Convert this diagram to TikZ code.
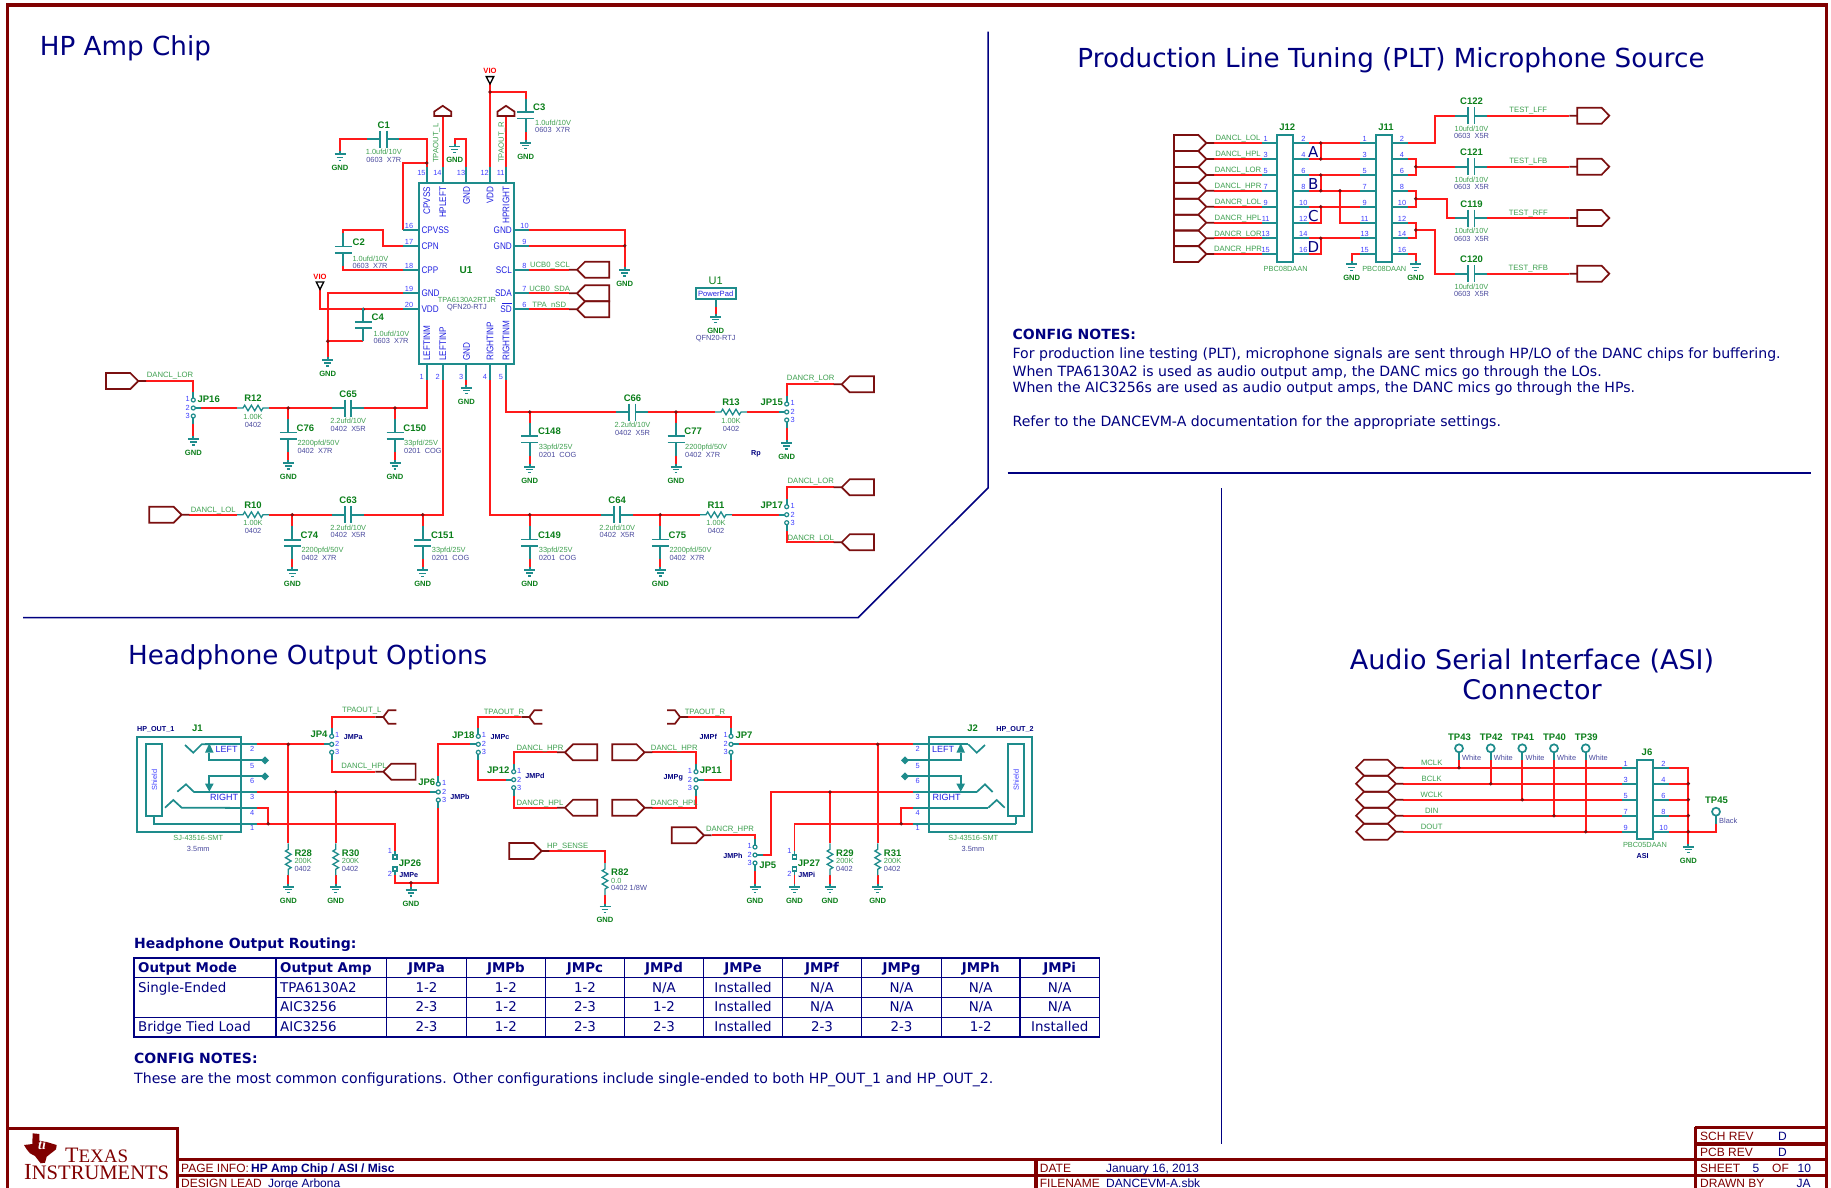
\documentclass[tikz,border=0pt]{standalone}
\usepackage{fontspec}
\setmainfont{Liberation Sans}
\newfontfamily\condf[FakeStretch=0.85]{Liberation Sans}
\newfontfamily\vrd{DejaVu Sans}
\newfontfamily\serf{Liberation Serif}
\definecolor{wirec}{HTML}{FF1A1A}
\definecolor{tealc}{HTML}{1E8C8C}
\definecolor{refg}{HTML}{0B7F1A}
\definecolor{valg}{HTML}{3FA050}
\definecolor{fpb}{HTML}{4A4A9E}
\definecolor{pinb}{HTML}{4040FF}
\definecolor{chipb}{HTML}{2020E0}
\definecolor{portc}{HTML}{7B1010}
\definecolor{navyc}{HTML}{000080}
\definecolor{borderc}{HTML}{800000}
\pgfdeclarelayer{fg}\pgfsetlayers{main,fg}
\makeatletter
\newenvironment{fgl}{\begingroup\global\setbox\pgf@layerbox@fg=\hbox to 0pt\bgroup\unhbox\pgf@layerbox@fg\begingroup\pgfsetcolor{.}}{\endgroup\hss\egroup\endgroup}
\makeatother
\tikzset{
  lbl/.style={inner sep=0pt,text height=5.5pt,text depth=0pt},
  refd/.style={lbl,text height=6.9pt,text=refg,font=\fontsize{9.5}{10}\selectfont\bfseries},
  val/.style={lbl,text=valg,font=\fontsize{7.4}{8}\selectfont},
  fpt/.style={lbl,text=fpb,font=\fontsize{7.4}{8}\selectfont},
  sig/.style={lbl,text=valg,font=\fontsize{7.7}{8}\selectfont},
  pnum/.style={lbl,text height=5.2pt,text=pinb,font=\fontsize{7.4}{8}\selectfont},
  chiptxt/.style={lbl,text height=6.9pt,text=chipb,font=\fontsize{9.6}{10}\condf},
  chiprot/.style={chiptxt,rotate=90},
  jname/.style={lbl,text=navyc,font=\fontsize{7.2}{8}\selectfont\bfseries},
  gndt/.style={lbl,text=refg,font=\fontsize{7.6}{8}\selectfont\bfseries},
  ttl/.style={lbl,text height=19pt,text=navyc,font=\fontsize{26.2}{28}\vrd},
  ttlb/.style={lbl,text height=19pt,text=navyc,font=\fontsize{27}{28}\vrd},
  notes/.style={lbl,text height=10pt,text=navyc,font=\fontsize{14.1}{15}\vrd},
  notesb/.style={lbl,text height=10pt,text=navyc,font=\fontsize{14}{15}\vrd\bfseries},
  tb/.style={lbl,text height=9.7pt,text=navyc,font=\fontsize{13.4}{15}\vrd},
  tbh/.style={lbl,text height=9.7pt,text=navyc,font=\fontsize{13.4}{15}\vrd\bfseries},
  tbk/.style={lbl,text height=8.6pt,text=borderc,font=\fontsize{12}{14}\selectfont},
  tbv/.style={lbl,text height=8.6pt,text=navyc,font=\fontsize{12}{14}\selectfont},
  wire/.style={draw=wirec,line width=1.8pt},
  part/.style={draw=tealc,line width=1.7pt},
  portl/.style={draw=portc,line width=1.7pt,line join=miter},
  tline/.style={draw=navyc,line width=1.5pt},
  frame/.style={draw=borderc,line width=3.2pt},
}
\newcount\labn
\newcommand\T[5]{\global\advance\labn by 1\relax
  \begin{fgl}\node[#1,anchor=#4] (t\the\labn) at (#2,#3) {#5};\end{fgl}}
\newcommand\RD[4][center]{\T{refd}{#2}{#3}{#1}{#4}}
\newcommand\VA[4][center]{\T{val}{#2}{#3}{#1}{#4}}
\newcommand\FP[4][center]{\T{fpt}{#2}{#3}{#1}{#4}}
\newcommand\SG[3]{\T{sig}{#1}{#2}{center}{#3}}
\newcommand\PN[3]{\T{pnum}{#1}{#2}{center}{#3}}
\newcommand\CW[3]{\T{chiptxt}{#1}{#2}{west}{#3}}
\newcommand\CE[3]{\T{chiptxt}{#1}{#2}{east}{#3}}
\newcommand\RT[3]{\T{chiprot}{#1}{#2}{east}{#3}}
\newcommand\RB[3]{\T{chiprot}{#1}{#2}{west}{#3}}
% pin stub
\newcommand\pin[5]{\begin{fgl}\coordinate (#1) at (#4,#5);
  \draw[part] (#2,#3) -- (#1);\end{fgl}}
\newcommand\jct[3]{\begin{fgl}\coordinate (#1) at (#2,#3);
  \fill[portc] (#1) circle (1.9pt);\end{fgl}}
\newcommand\gnd[3]{\begin{fgl}\coordinate (#1) at (#2,#3);
  \draw[part] (#2,#3-3) -- (#1) (#2-5.5,#3) -- (#2+5.5,#3);
  \draw[draw=tealc,line width=1.2pt] (#2-3.3,#3+3) -- (#2+3.3,#3+3) (#2-1.3,#3+6) -- (#2+1.3,#3+6);
  \end{fgl}\T{gndt}{#2}{#3+13.6}{center}{GND}}
\newcommand\capH[3]{\begin{fgl}\coordinate (#1-l) at (#2,#3);\coordinate (#1-r) at (#2+32,#3);
  \draw[part] (#1-l) -- (#2+13,#3) (#2+13,#3-8.5) -- (#2+13,#3+8.5)
     (#2+19.5,#3-8.5) -- (#2+19.5,#3+8.5) (#2+19.5,#3) -- (#1-r);\end{fgl}}
\newcommand\capV[3]{\begin{fgl}\coordinate (#1-t) at (#2,#3);\coordinate (#1-b) at (#2,#3+33);
  \draw[part] (#1-t) -- (#2,#3+13.5) (#2-8.5,#3+13.5) -- (#2+8.5,#3+13.5)
     (#2-8.5,#3+19.7) -- (#2+8.5,#3+19.7) (#2,#3+19.7) -- (#1-b);\end{fgl}}
\newcommand\resH[3]{\begin{fgl}\coordinate (#1-l) at (#2,#3);\coordinate (#1-r) at (#2+32,#3);
  \draw[part,line width=1.3pt] (#1-l) -- (#2+6,#3) -- (#2+7.7,#3-2.8) -- (#2+11,#3+2.8) -- (#2+14.4,#3-2.8) -- (#2+17.7,#3+2.8) -- (#2+21,#3-2.8) -- (#2+24.3,#3+2.8) -- (#2+26,#3) -- (#1-r);\end{fgl}}
\newcommand\resV[3]{\begin{fgl}\coordinate (#1-t) at (#2,#3);\coordinate (#1-b) at (#2,#3+32);
  \draw[part,line width=1.3pt] (#1-t) -- (#2,#3+6) -- (#2-2.8,#3+7.7) -- (#2+2.8,#3+11) -- (#2-2.8,#3+14.4) -- (#2+2.8,#3+17.7) -- (#2-2.8,#3+21) -- (#2+2.8,#3+24.3) -- (#2,#3+26) -- (#1-b);\end{fgl}}
% capacitor with labels and ground
\newcommand\CVL[5]{\capV{#1}{#2}{#3}\RD[west]{#2+8.2}{#3+8.6}{#1}\VA[west]{#2+9}{#3+24}{#4}\FP[west]{#2+9}{#3+31.5}{#5}
  \gnd{#1-g}{#2}{#3+44}\draw[wire] (#1-b) -- (#1-g);}
\newcommand\CHL[5]{\capH{#1}{#2}{#3}\RD{#2+16.5}{#3-14.3}{#1}\VA{#2+16.5}{#3+13}{#4}\FP{#2+16.5}{#3+20.3}{#5}}
\newcommand\RHL[5]{\resH{#1}{#2}{#3}\RD{#2+16}{#3-10}{#1}\VA{#2+16}{#3+8.3}{#4}\FP{#2+16}{#3+16.3}{#5}}
\newcommand\RVL[5]{\resV{#1}{#2}{#3}\RD[west]{#2+6}{#3+9.4}{#1}\VA[west]{#2+6}{#3+17.6}{#4}\FP[west]{#2+6}{#3+25}{#5}
  \gnd{#1-g}{#2}{#3+43.5}\draw[wire] (#1-b) -- (#1-g);}
% three-pin jumper: name, x, y of pin 1, side of pin 2 (+1/-1), x of pin numbers
\newcommand\JP[5]{\begin{fgl}\coordinate (#1-1) at (#2,#3-8);\coordinate (#1-3) at (#2,#3+24);\coordinate (#1-2) at (#2+8*#4,#3+8);
  \draw[part] (#1-1) -- (#2,#3) (#1-3) -- (#2,#3+16) (#1-2) -- (#2,#3+8);
  \draw[part,line width=1.2pt,fill=white] (#2,#3) circle (2pt) (#2,#3+8) circle (2pt) (#2,#3+16) circle (2pt);\end{fgl}
  \PN{#5}{#3-1}{1}\PN{#5}{#3+8}{2}\PN{#5}{#3+16}{3}}
% two-pin jumper
\newcommand\JS[3]{\begin{fgl}\coordinate (#1-1) at (#2,#3-6);\coordinate (#1-2) at (#2,#3+18);
  \draw[part] (#1-1) -- (#2,#3-2) (#1-2) -- (#2,#3+14);
  \draw[part,line width=1.2pt,fill=white] (#2-2,#3-2) rectangle (#2+2,#3+2) (#2-2,#3+10) rectangle (#2+2,#3+14);\end{fgl}
  \PN{#2-5}{#3-6}{1}\PN{#2-5}{#3+17}{2}}
% ports
\newcommand\portOut[3]{\begin{fgl}\coordinate (#1) at (#2+40,#3);
  \draw[portl] (#2,#3-8) -- (#2+24.3,#3-8) -- (#2+32.3,#3) -- (#2+24.3,#3+8) -- (#2,#3+8) -- cycle (#2+32.3,#3) -- (#1);\end{fgl}}
\newcommand\portIn[3]{\begin{fgl}\coordinate (#1) at (#2-8,#3);
  \draw[portl] (#2+32.3,#3-8) -- (#2+8,#3-8) -- (#2,#3) -- (#2+8,#3+8) -- (#2+32.3,#3+8) -- cycle (#2,#3) -- (#1);\end{fgl}}
\newcommand\portFlat[3]{\begin{fgl}\coordinate (#1) at (#2-8,#3);
  \draw[portl] (#2,#3-8) -- (#2+24.3,#3-8) -- (#2+32,#3) -- (#2+24.3,#3+8) -- (#2,#3+8) -- cycle (#2,#3) -- (#1);\end{fgl}}
\newcommand\portUp[3]{\begin{fgl}\coordinate (#1) at (#2,#3);
  \draw[portl] (#2-8.5,#3) -- (#2-8.5,#3-4.4) -- (#2,#3-10.2) -- (#2+8.5,#3-4.4) -- (#2+8.5,#3) -- cycle;\end{fgl}}
\newcommand\forkR[3]{\begin{fgl}\coordinate (#1) at (#2-8,#3);
  \draw[portl] (#2+13,#3-6.7) -- (#2+5,#3-6.7) -- (#2,#3) -- (#2+5,#3+6.7) -- (#2+13,#3+6.7) (#2,#3) -- (#1);\end{fgl}}
\newcommand\forkL[3]{\begin{fgl}\coordinate (#1) at (#2+8,#3);
  \draw[portl] (#2-13,#3-6.7) -- (#2-5,#3-6.7) -- (#2,#3) -- (#2-5,#3+6.7) -- (#2-13,#3+6.7) (#2,#3) -- (#1);\end{fgl}}
\newcommand\portH[3]{\begin{fgl}\coordinate (#1) at (#2+47.3,#3);
  \draw[portl] (#2,#3) -- (#2+8,#3-8) -- (#2+31.7,#3-8) -- (#2+40,#3) -- (#2+31.7,#3+8) -- (#2+8,#3+8) -- cycle (#2+40,#3) -- (#1);\end{fgl}}
\newcommand\vio[3]{\begin{fgl}\coordinate (#1) at (#2,#3);
  \draw[black,line width=1.3pt] (#2-3.8,#3-7.4) -- (#2+3.8,#3-7.4) -- (#2,#3) -- cycle;\end{fgl}
  \T{lbl,text=red,font=\fontsize{7.6}{8}\selectfont\bfseries}{#2}{#3-13}{center}{VIO}}
\newcommand\TPT[5]{\begin{fgl}\coordinate (#1) at (#2,#3+12);
  \draw[part] (#2,#3) circle (4pt);\draw[part] (#2,#3+4) -- (#1);\end{fgl}
  \T{refd}{#2+.5}{#3-11.5}{center}{#1}\T{fpt}{#2+3}{#3+9}{west}{#4}}
\begin{document}
\begin{tikzpicture}[x=1pt,y=-1pt,line cap=butt,line join=miter]
\useasboundingbox (0,0) rectangle (1831,1187);
\fill[white] (0,0) rectangle (1831,1187);
%% frame and title block
\draw[frame] (7.3,1190) -- (7.3,5) -- (1826.7,5) -- (1826.7,1190);
\draw[frame] (7.3,1128.3) -- (177.3,1128.3) -- (177.3,1190);
\draw[frame] (177.3,1159.3) -- (1826.7,1159.3) (177.3,1175.7) -- (1826.7,1175.7);
\draw[frame] (1036,1159.3) -- (1036,1190);
\draw[frame] (1695.3,1127.3) -- (1826.7,1127.3) (1695.3,1144) -- (1826.7,1144) (1695.3,1127.3) -- (1695.3,1190);
\T{tbk}{181}{1168.3}{west}{PAGE INFO:}
\T{tbv,font=\fontsize{12}{14}\selectfont\bfseries}{251}{1168.3}{west}{HP Amp Chip / ASI / Misc}
\T{tbk}{181}{1182.7}{west}{DESIGN LEAD}
\T{tbv}{268}{1182.7}{west}{Jorge Arbona}
\T{tbk}{1039.7}{1168.3}{west}{DATE}
\T{tbv}{1106}{1168.3}{west}{January 16, 2013}
\T{tbk}{1039.7}{1182.7}{west}{FILENAME}
\T{tbv}{1106}{1182.7}{west}{DANCEVM-A.sbk}
\T{tbk}{1700}{1135.7}{west}{SCH REV}\T{tbv}{1778}{1135.7}{west}{D}
\T{tbk}{1700}{1151.7}{west}{PCB REV}\T{tbv}{1778}{1151.7}{west}{D}
\T{tbk}{1700}{1168.3}{west}{SHEET}\T{tbv}{1752.5}{1168.3}{west}{5}\T{tbk}{1772}{1168.3}{west}{OF}\T{tbv}{1797.5}{1168.3}{west}{10}
\T{tbk}{1700}{1182.7}{west}{DRAWN BY}\T{tbv}{1796.5}{1182.7}{west}{JA}
%% logo
\fill[borderc] (32.7,1133.3) -- (39.3,1134) -- (39.3,1140.7) -- (46.7,1142) -- (56.7,1145) -- (56,1149.3) -- (46.7,1156.7) -- (45,1162.7) -- (40.7,1163.3) -- (35,1156) -- (30,1153.3) -- (26.7,1149.3) -- (24,1145) -- (32.3,1144) -- cycle;
\T{lbl,text=white,font=\fontsize{14}{14}\serf\bfseries\itshape}{42}{1147}{center}{ti}
\T{lbl,text=borderc,font=\serf}{65}{1162.7}{base west}{\fontsize{22}{22}\selectfont T\fontsize{19}{19}\selectfont EXAS}
\T{lbl,text=borderc,font=\serf}{24}{1179.7}{base west}{\fontsize{23}{23}\selectfont I\fontsize{20.6}{20.6}\selectfont NSTRUMENTS}
%% section dividers
\draw[tline] (988,31.5) -- (988,488) -- (858,617.7) -- (23,617.7);
\draw[tline] (1007.7,472.9) -- (1811,472.9);
\draw[tline] (1221.5,488) -- (1221.5,1144);
%% titles and notes
\T{ttl}{39.7}{45.5}{west}{HP Amp Chip}
\T{ttl}{1391}{58}{center}{Production Line Tuning (PLT) Microphone Source}
\T{ttl}{307.7}{655}{center}{Headphone Output Options}
\T{ttlb}{1532}{659.7}{center}{Audio Serial Interface (ASI)}
\T{ttlb}{1532}{690}{center}{Connector}
\T{notesb}{1012.4}{334}{west}{CONFIG NOTES:}
\T{notes}{1012.4}{353.8}{west}{For production line testing (PLT), microphone signals are sent through HP/LO of the DANC chips for buffering.}
\T{notes}{1012.4}{371.3}{west}{When TPA6130A2 is used as audio output amp, the DANC mics go through the LOs.}
\T{notes}{1012.4}{387.7}{west}{When the AIC3256s are used as audio output amps, the DANC mics go through the HPs.}
\T{notes}{1012.4}{421.5}{west}{Refer to the DANCEVM-A documentation for the appropriate settings.}
\T{notesb}{134}{943.7}{west}{Headphone Output Routing:}
\T{notesb}{134}{1058.3}{west}{CONFIG NOTES:}
\T{notes}{134}{1078.3}{west}{These are the most common configurations. Other configurations include single-ended to both HP\_OUT\_1 and HP\_OUT\_2.}
%% routing table
\draw[tline] (134,958) rectangle (1099.6,1037);
\draw[tline] (134,977.7) -- (1099.6,977.7) (276.2,997.7) -- (1099.6,997.7) (134,1017.3) -- (1099.6,1017.3);
\foreach \cx in {276.2,386.6,466.3,545.4,624.5,703.5,782.6,861.7,941.4,1019.9} \draw[tline] (\cx,958) -- (\cx,1037);
\T{tbh}{138}{968}{west}{Output Mode}\T{tbh}{280}{968}{west}{Output Amp}
\foreach \cx/\tx in {426.5/JMPa,505.9/JMPb,585/JMPc,664/JMPd,743/JMPe,822/JMPf,901.5/JMPg,980.7/JMPh,1059.7/JMPi} {\T{tbh}{\cx}{968}{center}{\tx}}
\T{tb}{138}{987.5}{west}{Single-Ended}\T{tb}{280}{987.5}{west}{TPA6130A2}
\foreach \cx/\tx in {426.5/1-2,505.9/1-2,585/1-2,664/N\slash A,743/Installed,822/N\slash A,901.5/N\slash A,980.7/N\slash A,1059.7/N\slash A} {\T{tb}{\cx}{987.5}{center}{\tx}}
\T{tb}{280}{1007}{west}{AIC3256}
\foreach \cx/\tx in {426.5/2-3,505.9/1-2,585/2-3,664/1-2,743/Installed,822/N\slash A,901.5/N\slash A,980.7/N\slash A,1059.7/N\slash A} {\T{tb}{\cx}{1007}{center}{\tx}}
\T{tb}{138}{1026.7}{west}{Bridge Tied Load}\T{tb}{280}{1026.7}{west}{AIC3256}
\foreach \cx/\tx in {426.5/2-3,505.9/1-2,585/2-3,664/2-3,743/Installed,822/2-3,901.5/2-3,980.7/1-2,1059.7/Installed} {\T{tb}{\cx}{1026.7}{center}{\tx}}
%% ===== U1 =====
\begin{fgl}\draw[part] (419,183) rectangle (514,364);\end{fgl}
\T{refd,font=\fontsize{10}{10}\selectfont\bfseries}{466}{269.7}{center}{U1}
\VA{467}{299.3}{TPA6130A2RTJR}\FP{467}{307}{QFN20-RTJ}
\foreach \n/\cx in {15/426.7,14/442.7,13/466.3,12/490,11/506} {\pin{U1-\n}{\cx}{183}{\cx}{167}\PN{\cx-5.3}{172.5}{\n}}
\foreach \n/\cy in {16/230,17/245.7,18/269.7,19/293.3,20/309.3} {\pin{U1-\n}{419}{\cy}{402.7}{\cy}\PN{409}{\cy-4}{\n}}
\foreach \n/\cy in {10/230,9/245.7,8/269.7,7/293.3,6/309.3} {\pin{U1-\n}{514}{\cy}{529.3}{\cy}\PN{524.5}{\cy-4}{\n}}
\foreach \n/\cx in {1/426.7,2/442.7,3/466.3,4/490,5/506} {\pin{U1-\n}{\cx}{364}{\cx}{380}\PN{\cx-5}{377}{\n}}
\RT{426.7}{186.5}{CPVSS}\RT{442.7}{186.5}{HPLEFT}\RT{466.3}{186.5}{GND}\RT{490}{186.5}{VDD}\RT{506}{186.5}{HPRIGHT}
\RB{426.7}{361}{LEFTINM}\RB{442.7}{361}{LEFTINP}\RB{466.3}{361}{GND}\RB{490}{361}{RIGHTINP}\RB{506}{361}{RIGHTINM}
\CW{421.3}{230}{CPVSS}\CW{421.3}{245.7}{CPN}\CW{421.3}{269.7}{CPP}\CW{421.3}{293.3}{GND}\CW{421.3}{309.3}{VDD}
\CE{512}{230}{GND}\CE{512}{245.7}{GND}\CE{512}{269.7}{SCL}\CE{512}{293.3}{SDA}\CE{512}{309.3}{SD}
\begin{fgl}\draw[chipb,line width=.7pt] (502,303.6) -- (511.5,303.6);\end{fgl}
% top
\CHL{C1}{367.3}{139}{1.0ufd/10V}{0603\ \ X7R}
\gnd{GC1}{340}{154.3}
\draw[wire] (GC1) |- (C1-l);
\jct{j15}{426.7}{163}
\draw[wire] (C1-r) -| (U1-15);
\draw[wire] (j15) -| (U1-16);
\portUp{PTL}{442.7}{116}\portUp{PTR}{506}{116}
\draw[wire] (U1-14) -- (PTL);\draw[wire] (U1-11) -- (PTR);
\T{sig,rotate=90}{435.7}{163}{west}{TPAOUT\_L}
\T{sig,rotate=90}{501}{163}{west}{TPAOUT\_R}
\gnd{G13}{454.7}{146.5}
\coordinate (b13) at (466.3,139);
\draw[wire] (U1-13) -- (b13) -| (G13);
\vio{V1}{490}{84}
\jct{j12}{490}{92}
\draw[wire] (U1-12) -- (V1);
\capV{C3}{525.7}{98.8}\RD[west]{533}{106.7}{C3}\VA[west]{535}{123}{1.0ufd/10V}\FP[west]{535}{130}{0603\ \ X7R}
\gnd{GC3}{525.7}{142.7}
\draw[wire] (j12) -| (C3-t);\draw[wire] (C3-b) -- (GC3);
% left
\capV{C2}{343.3}{233}\RD[west]{352.5}{241.7}{C2}\VA[west]{352.3}{258.3}{1.0ufd/10V}\FP[west]{352.3}{265.3}{0603\ \ X7R}
\coordinate (b17) at (383.3,230);
\draw[wire] (U1-17) -| (b17) -| (C2-t);
\draw[wire] (C2-b) |- (U1-18);
\vio{V2}{320}{289.3}
\draw[wire] (V2) |- (U1-20);
\jct{j20}{363.3}{309.3}
\capV{C4}{363.3}{308.2}\RD[west]{371.5}{316.7}{C4}\VA[west]{373.3}{333.3}{1.0ufd/10V}\FP[west]{373.3}{340.3}{0603\ \ X7R}
\gnd{GC4}{327.7}{360}
\draw[wire] (U1-19) -| (GC4);
\draw[wire] (C4-b) -| (GC4);
\jct{j19}{327.7}{341.2}
% LEFTINM branch
\portOut{PLOR}{106}{381}\SG{170}{375}{DANCL\_LOR}
\JP{JP16}{193.3}{400}{1}{187.7}
\RD{208.7}{398.7}{JP16}
\gnd{GJ16}{193.3}{439}
\draw[wire] (PLOR) -| (JP16-1);
\draw[wire] (JP16-3) -- (GJ16);
\RHL{R12}{237}{408}{1.00K}{0402}
\CHL{C65}{331.7}{408}{2.2ufd/10V}{0402\ \ X5R}
\draw[wire] (JP16-2) -- (R12-l);
\draw[wire] (R12-r) -- (C65-l);
\draw[wire] (U1-1) |- (C65-r);
\jct{j76}{288.3}{408}\jct{j150}{395}{408}
\CVL{C76}{288.3}{419}{2200pfd/50V}{0402\ \ X7R}\draw[wire] (j76) -- (C76-t);
\CVL{C150}{395}{419}{33pfd/25V}{0201\ \ COG}\draw[wire] (j150) -- (C150-t);
% LEFTINP branch
\portOut{PLOL}{149.3}{514.7}\SG{213.3}{509.3}{DANCL\_LOL}
\RHL{R10}{237}{514.7}{1.00K}{0402}
\CHL{C63}{331.7}{514.7}{2.2ufd/10V}{0402\ \ X5R}
\draw[wire] (PLOL) -- (R10-l);
\draw[wire] (R10-r) -- (C63-l);
\draw[wire] (U1-2) |- (C63-r);
\jct{j74}{292.3}{514.7}\jct{j151}{422.7}{514.7}
\CVL{C74}{292.3}{526.2}{2200pfd/50V}{0402\ \ X7R}\draw[wire] (j74) -- (C74-t);
\CVL{C151}{422.7}{526.2}{33pfd/25V}{0201\ \ COG}\draw[wire] (j151) -- (C151-t);
% pin 3
\gnd{G3}{466.3}{387.7}\draw[wire] (U1-3) -- (G3);
% RIGHTINP branch
\CHL{C64}{600.7}{514.7}{2.2ufd/10V}{0402\ \ X5R}
\draw[wire] (U1-4) |- (C64-l);
\RHL{R11}{700}{514.7}{1.00K}{0402}
\draw[wire] (C64-r) -- (R11-l);
\JP{JP17}{786.7}{506.7}{-1}{792.7}
\RD{771.7}{505}{JP17}
\draw[wire] (R11-r) -- (JP17-2);
\portIn{P17a}{841.7}{487.3}\SG{810.7}{480.3}{DANCL\_LOR}
\portIn{P17b}{841.7}{542.3}\SG{810.7}{537.3}{DANCR\_LOL}
\draw[wire] (JP17-1) |- (P17a);\draw[wire] (JP17-3) |- (P17b);
\jct{j149}{529.7}{514.7}\jct{j75}{660.3}{514.7}
\CVL{C149}{529.7}{526}{33pfd/25V}{0201\ \ COG}\draw[wire] (j149) -- (C149-t);
\CVL{C75}{660.3}{526}{2200pfd/50V}{0402\ \ X7R}\draw[wire] (j75) -- (C75-t);
% RIGHTINM branch
\CHL{C66}{616}{412}{2.2ufd/10V}{0402\ \ X5R}
\draw[wire] (U1-5) |- (C66-l);
\RHL{R13}{715}{412}{1.00K}{0402}
\draw[wire] (C66-r) -- (R13-l);
\JP{JP15}{786.7}{404}{-1}{792.7}
\RD{771.7}{401.7}{JP15}
\draw[wire] (R13-r) -- (JP15-2);
\portIn{P15}{841.7}{384.3}\SG{810.7}{377.3}{DANCR\_LOR}
\draw[wire] (JP15-1) |- (P15);
\gnd{GJ15}{786.7}{443}\draw[wire] (JP15-3) -- (GJ15);
\T{jname}{756}{452.7}{center}{Rp}
\jct{j148}{529.7}{412}\jct{j77}{676}{412}
\CVL{C148}{529.7}{422.8}{33pfd/25V}{0201\ \ COG}\draw[wire] (j148) -- (C148-t);
\CVL{C77}{676}{422.8}{2200pfd/50V}{0402\ \ X7R}\draw[wire] (j77) -- (C77-t);
% right pins
\gnd{G9}{624.7}{270}\jct{j9}{624.7}{245.7}
\draw[wire] (U1-10) -| (G9);\draw[wire] (U1-9) -- (j9);
\portIn{P8}{577}{269.7}\portIn{P7}{577}{293.3}\portIn{P6}{577}{309.3}
\draw[wire] (U1-8) -- (P8);\draw[wire] (U1-7) -- (P7);\draw[wire] (U1-6) -- (P6);
\SG{550}{264.3}{UCB0\_SCL}\SG{549.7}{288.3}{UCB0\_SDA}\SG{549.3}{304.3}{TPA\_nSD}
% PowerPad
\begin{fgl}\draw[part] (695.7,288.3) rectangle (735.7,298.7);\end{fgl}
\T{lbl,text=chipb,font=\fontsize{7.6}{8}\selectfont}{715.7}{293.5}{center}{PowerPad}
\T{lbl,text height=8pt,text=refg,font=\fontsize{11}{12}\selectfont}{715.7}{280.7}{center}{U1}
\pin{PPp}{715.7}{298.7}{715.7}{307}
\gnd{GPP}{715.7}{316.7}\draw[wire] (PPp) -- (GPP);
\FP{715.7}{338}{QFN20-RTJ}
%% ===== PLT =====
\begin{fgl}\draw[part] (1277.3,135) rectangle (1293.3,261.7);\draw[part] (1376,135) rectangle (1391.7,261.7);\end{fgl}
\RD{1287.3}{126.7}{J12}\RD{1386}{126.7}{J11}
\VA{1285.7}{268.3}{PBC08DAAN}\VA{1384.3}{268.3}{PBC08DAAN}
\foreach \a/\b/\cy/\nm in {1/2/143/DANCL\_LOL,3/4/159/DANCL\_HPL,5/6/175/DANCL\_LOR,7/8/190.7/DANCL\_HPR,9/10/206.7/DANCR\_LOL,11/12/222.7/DANCR\_HPL,13/14/238.3/DANCR\_LOR,15/16/254/DANCR\_HPR} {
  \pin{J12-\a}{1277.3}{\cy}{1261.7}{\cy}\pin{J12-\b}{1293.3}{\cy}{1309}{\cy}
  \pin{J11-\a}{1376}{\cy}{1360}{\cy}\pin{J11-\b}{1391.7}{\cy}{1408.3}{\cy}
  \PN{1265.7}{\cy-4}{\a}\PN{1303.3}{\cy-4}{\b}\PN{1364.7}{\cy-4}{\a}\PN{1402}{\cy-4}{\b}
  \portOut{PL\a}{1174}{\cy}\draw[wire] (PL\a) -- (J12-\a);
  \SG{1238}{\cy-5}{\nm}
}
\draw[wire] (J12-2) -- (J11-1);\draw[wire] (J12-4) -- (J11-3);\draw[wire] (J12-6) -- (J11-5);\draw[wire] (J12-8) -- (J11-7);
\draw[wire] (J12-10) -- (J11-9);\draw[wire] (J12-14) -- (J11-13);
\jct{jA1}{1320.7}{143}\jct{jA2}{1320.7}{159}\jct{jB1}{1320.7}{175}\jct{jB2}{1320.7}{190.7}\jct{jC1}{1320.7}{206.7}\jct{jD1}{1320.7}{238.3}\jct{jB3}{1340}{190.7}
\draw[wire] (jA1) -- (jA2);\draw[wire] (jB1) -- (jB2);
\draw[wire] (jC1) |- (J12-12);\draw[wire] (jD1) |- (J12-16);
\draw[wire] (jB3) |- (J11-11);
\foreach \l/\cy in {A/151.7,B/184,C/216,D/246.7} {\T{lbl,text height=11pt,text=navyc,font=\fontsize{15}{16}\vrd}{1313.3}{\cy}{center}{\l}}
\gnd{G15}{1351.7}{264.3}\gnd{G16}{1415.7}{264.3}
\draw[wire] (J11-15) -| (G15);\draw[wire] (J11-16) -| (G16);
\CHL{C122}{1455}{115.7}{10ufd/10V}{0603\ \ X5R}
\CHL{C121}{1455}{166.7}{10ufd/10V}{0603\ \ X5R}
\CHL{C119}{1455}{218}{10ufd/10V}{0603\ \ X5R}
\CHL{C120}{1455}{273.7}{10ufd/10V}{0603\ \ X5R}
\coordinate (b122) at (1435,143);\draw[wire] (J11-2) -- (b122) |- (C122-l);
\jct{jT1}{1415.7}{166.7}\draw[wire] (J11-4) -| (jT1);\draw[wire] (J11-6) -| (jT1);\draw[wire] (jT1) -- (C121-l);
\jct{jT2}{1415.7}{198.7}\draw[wire] (J11-8) -| (jT2);\draw[wire] (J11-10) -| (jT2);
\coordinate (b119) at (1446.7,198.7);\draw[wire] (jT2) -- (b119) |- (C119-l);
\jct{jT3}{1415.7}{230}\draw[wire] (J11-12) -| (jT3);\draw[wire] (J11-14) -| (jT3);
\coordinate (b120) at (1435,230);\draw[wire] (jT3) -- (b120) |- (C120-l);
\foreach \k/\cy/\nm in {C122/115.7/TEST\_LFF,C121/166.7/TEST\_LFB,C119/218/TEST\_RFF,C120/273.7/TEST\_RFB} {
  \portFlat{PT\k}{1577.3}{\cy}\draw[wire] (\k-r) -- (PT\k);\SG{1528.3}{\cy-5.6}{\nm}
}
%% ===== J1 =====
\begin{fgl}
\draw[part] (137.3,736.7) rectangle (241,831.7);
\draw[part] (146,744.3) rectangle (162,815.7);
\draw[part] (185,745) -- (193.3,752.7) -- (201.7,744.3) -- (215,744.3);
\fill[tealc] (209.3,743.3) -- (213.6,752.7) -- (205,752.7) -- cycle;
\draw[part] (209.3,752.7) |- (265,760.3);
\fill[tealc] (261,760.3) -- (265,756.3) -- (269,760.3) -- (265,764.3) -- cycle;
\fill[tealc] (261,776.3) -- (265,772.3) -- (269,776.3) -- (265,780.3) -- cycle;
\draw[part] (265,776.3) -| (209.3,783.7);
\fill[tealc] (209.3,791.7) -- (213.6,783.7) -- (205,783.7) -- cycle;
\draw[part] (177.3,791.7) -- (186,784.3) -- (194,792) -- (210,792);
\draw[part] (165,807.7) -- (173.3,800) -- (181.7,807.7) -- (230,807.7);
\draw[part] (154.3,815.7) |- (230,823.7);
\end{fgl}
\pin{J1-2}{205}{744.3}{256.7}{744.3}\pin{J1-3}{205}{792}{256.7}{792}\pin{J1-4}{225}{807.7}{256.7}{807.7}\pin{J1-1}{225}{823.7}{256.7}{823.7}
\PN{252.3}{749.3}{2}\PN{252.3}{765.7}{5}\PN{252.3}{781.3}{6}\PN{252.3}{796.7}{3}\PN{252.3}{812.7}{4}\PN{252.3}{828.3}{1}
\T{chiptxt,font=\fontsize{9}{10}\selectfont}{226.7}{749}{center}{LEFT}\T{chiptxt,font=\fontsize{9}{10}\selectfont}{224}{797}{center}{RIGHT}
\T{lbl,rotate=90,text=pinb,font=\fontsize{7.4}{8}\selectfont}{154.3}{780}{center}{Shield}
\RD{197.3}{727.7}{J1}\T{jname}{155.7}{728.3}{center}{HP\_OUT\_1}
\VA{198.3}{837.3}{SJ-43516-SMT}\FP{198.3}{848.3}{3.5mm}
\JP{JP4}{331.7}{736.3}{-1}{337.3}\RD{319}{734.3}{JP4}\T{jname}{353.3}{736.3}{center}{JMPa}
\draw[wire] (J1-2) -- (JP4-2);
\forkR{FL1}{383.3}{717}\SG{361.7}{709.3}{TPAOUT\_L}
\portIn{P4c}{383.3}{771.7}\SG{364}{765.3}{DANCL\_HPL}
\draw[wire] (JP4-1) |- (FL1);\draw[wire] (JP4-3) |- (P4c);
\jct{j28}{288.3}{744.3}\RVL{R28}{288.3}{843.3}{200K}{0402}\draw[wire] (j28) -- (R28-t);
\jct{j30}{335.7}{792}\RVL{R30}{335.7}{843.3}{200K}{0402}\draw[wire] (j30) -- (R30-t);
\JP{JP6}{438.3}{784}{-1}{444.3}\RD{426.7}{781.7}{JP6}\T{jname}{460}{796.7}{center}{JMPb}
\draw[wire] (J1-3) -- (JP6-2);
\jct{j4}{268.3}{823.7}\draw[wire] (J1-4) -| (j4);
\JS{JP26}{395}{857}\RD{410}{862.7}{JP26}\T{jname}{408.7}{875}{center}{JMPe}
\draw[wire] (J1-1) -| (JP26-1);
\coordinate (b26) at (395,882.7);\jct{j26}{411}{882.7}
\draw[wire] (JP26-2) -- (b26) -| (JP6-3);
\gnd{G26}{411}{890}\draw[wire] (j26) -- (G26);
\JP{JP18}{478.3}{736.3}{-1}{484}\RD{463.3}{734.7}{JP18}\T{jname}{500}{736.3}{center}{JMPc}
\draw[wire] (JP6-1) |- (JP18-2);
\forkR{FR1}{529.3}{717}\SG{504}{711.3}{TPAOUT\_R}\draw[wire] (JP18-1) |- (FR1);
\JP{JP12}{513.7}{771.7}{-1}{519.3}\RD{498.3}{770}{JP12}\T{jname}{535}{776}{center}{JMPd}
\draw[wire] (JP18-3) |- (JP12-2);
\portIn{PJa}{565}{752.3}\SG{540}{747.3}{DANCL\_HPR}
\portIn{PJb}{565}{807.7}\SG{540}{802.7}{DANCR\_HPL}
\draw[wire] (JP12-1) |- (PJa);\draw[wire] (JP12-3) |- (PJb);
\portOut{PHS}{509.3}{851}\SG{567.7}{846}{HP\_SENSE}
\RVL{R82}{605}{863}{0.0}{0402 1/8W}\draw[wire] (PHS) -| (R82-t);
%% ===== J2 =====
\begin{fgl}
\draw[part] (929,736.7) rectangle (1032,831.7);
\draw[part] (1008,744.3) rectangle (1024.3,815.7);
\draw[part] (968.3,744.3) -- (976.7,752.7) -- (985,745);
\fill[tealc] (960.7,743.3) -- (965,752.7) -- (956.4,752.7) -- cycle;
\draw[part] (960.7,752.7) |- (905,760.3);
\fill[tealc] (901,760.3) -- (905,756.3) -- (909,760.3) -- (905,764.3) -- cycle;
\fill[tealc] (901,776.3) -- (905,772.3) -- (909,776.3) -- (905,780.3) -- cycle;
\draw[part] (905,776.3) -| (960.7,783.7);
\fill[tealc] (960.7,791.7) -- (965,783.7) -- (956.4,783.7) -- cycle;
\draw[part] (976.7,792) -- (985,784.3) -- (992.7,792);
\draw[part] (988.3,807.7) -- (996.7,800) -- (1004.7,807.7);
\draw[part] (1016,815.7) -- (1016,823.7);
\end{fgl}
\pin{J2-2}{968.3}{744.3}{913.3}{744.3}\pin{J2-3}{976.7}{792}{913.3}{792}\pin{J2-4}{988.3}{807.7}{913.3}{807.7}\pin{J2-1}{1016}{823.7}{913.3}{823.7}
\PN{917.7}{749.3}{2}\PN{917.7}{765.7}{5}\PN{917.7}{781.3}{6}\PN{917.7}{796.7}{3}\PN{917.7}{812.7}{4}\PN{917.7}{828.3}{1}
\T{chiptxt,font=\fontsize{9}{10}\selectfont}{943}{749}{center}{LEFT}\T{chiptxt,font=\fontsize{9}{10}\selectfont}{946.7}{797}{center}{RIGHT}
\T{lbl,rotate=90,text=pinb,font=\fontsize{7.4}{8}\selectfont}{1016}{780}{center}{Shield}
\RD{972.7}{727.7}{J2}\T{jname}{1015}{728.3}{center}{HP\_OUT\_2}
\VA{973.3}{837.3}{SJ-43516-SMT}\FP{973}{848.3}{3.5mm}
\JP{JP7}{731}{736.3}{1}{725.7}\RD{744}{734.7}{JP7}\T{jname}{708.3}{736.3}{center}{JMPf}
\forkL{FR2}{680}{717}\SG{705}{711.3}{TPAOUT\_R}
\draw[wire] (FR2) -| (JP7-1);
\draw[wire] (JP7-2) -- (J2-2);
\jct{j31}{877.7}{744.3}\RVL{R31}{877.7}{843.3}{200K}{0402}\draw[wire] (j31) -- (R31-t);
\JP{JP11}{696}{771.7}{1}{690}\RD{710.7}{770}{JP11}\T{jname}{673.3}{776.7}{center}{JMPg}
\draw[wire] (JP7-3) |- (JP11-2);
\portOut{PK1}{612.3}{752.3}\SG{674.3}{747.3}{DANCL\_HPR}
\portOut{PK2}{612.3}{807.7}\SG{674.3}{802.7}{DANCR\_HPL}
\draw[wire] (JP11-1) |- (PK1);\draw[wire] (JP11-3) |- (PK2);
\portOut{PK3}{671.7}{835.3}\SG{730}{828.3}{DANCR\_HPR}
\JP{JP5}{755}{847}{1}{749.7}\RD{767.7}{865}{JP5}\T{jname}{733}{855.7}{center}{JMPh}
\draw[wire] (PK3) -| (JP5-1);
\coordinate (b5) at (771,855);\draw[wire] (JP5-2) -- (b5) |- (J2-3);
\gnd{GJ5}{755}{886.7}\draw[wire] (JP5-3) -- (GJ5);
\jct{j29}{830}{792}\RVL{R29}{830}{843.3}{200K}{0402}\draw[wire] (j29) -- (R29-t);
\jct{j4b}{901.3}{823.7}\draw[wire] (J2-4) -| (j4b);
\JS{JP27}{794.5}{857}\RD{809}{862.7}{JP27}\T{jname}{806.7}{875}{center}{JMPi}
\draw[wire] (J2-1) -| (JP27-1);
\gnd{GJ27}{794.5}{886.7}\draw[wire] (JP27-2) -- (GJ27);
%% ===== ASI =====
\begin{fgl}\draw[part] (1636.7,760) rectangle (1653.3,839.3);\end{fgl}
\RD{1647}{751.7}{J6}\VA{1645}{845}{PBC05DAAN}\T{jname}{1642.7}{855.3}{center}{ASI}
\foreach \a/\b/\cy/\nm in {1/2/767.7/MCLK,3/4/783.7/BCLK,5/6/799.7/WCLK,7/8/815.7/DIN,9/10/831.7/DOUT} {
  \pin{J6-\a}{1636.7}{\cy}{1621.7}{\cy}\pin{J6-\b}{1653.3}{\cy}{1669}{\cy}
  \PN{1625.7}{\cy-4}{\a}\PN{1663.5}{\cy-4}{\b}
  \portH{PA\a}{1356}{\cy}\draw[wire] (PA\a) -- (J6-\a);
  \SG{1431.7}{\cy-5.4}{\nm}
}
\foreach \b/\cy in {4/783.7,6/799.7,8/815.7,10/831.7} {\jct{jr\b}{1688.3}{\cy}\draw[wire] (J6-\b) -- (jr\b);}
\gnd{GJ6}{1688.3}{846.7}
\draw[wire] (J6-2) -| (GJ6);
\foreach \k/\cx/\ry/\cy in {TP43/1459/1/767.7,TP42/1490.7/3/783.7,TP41/1522.3/5/799.7,TP40/1554/7/815.7,TP39/1585.7/9/831.7} {
  \TPT{\k}{\cx}{748.3}{White}{}
  \jct{jt\k}{\cx}{\cy}\draw[wire] (\k) -- (jt\k);
}
\TPT{TP45}{1716}{811.7}{Black}{}
\draw[wire] (jr10) -| (TP45);
\end{tikzpicture}
\end{document}
